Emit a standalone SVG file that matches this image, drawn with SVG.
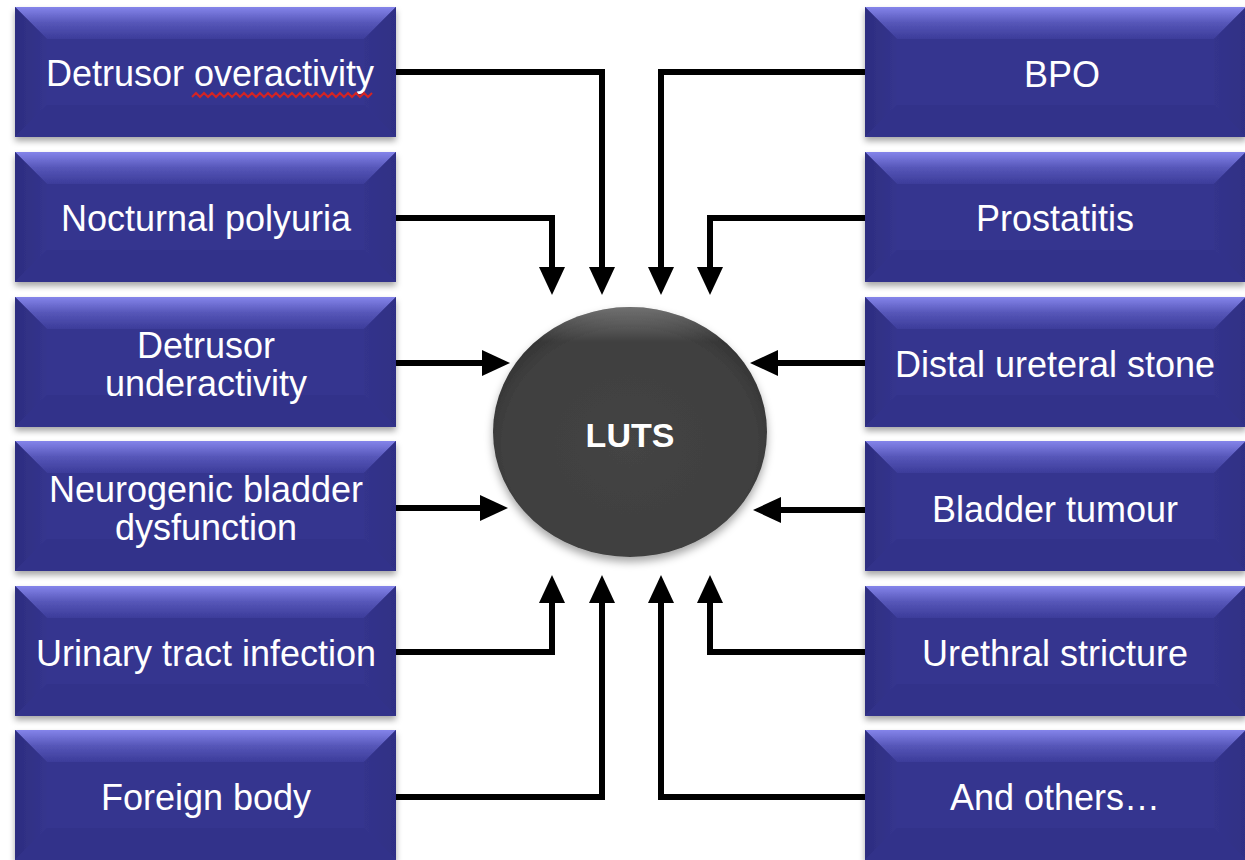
<svg xmlns="http://www.w3.org/2000/svg" xmlns:xlink="http://www.w3.org/1999/xlink" width="1245" height="860" viewBox="0 0 1245 860">
<style>
.lbl{font-family:"Liberation Sans",Arial,sans-serif;font-size:36px;fill:#ffffff;text-anchor:middle}
.hub{font-family:"Liberation Sans",Arial,sans-serif;font-size:34px;font-weight:bold;fill:#ffffff;text-anchor:middle}
.con{fill:none;stroke:#000;stroke-width:6;stroke-linejoin:miter;marker-end:url(#ah)}
</style>
<defs>
<filter id="sh" x="-10%" y="-10%" width="120%" height="130%">
<feDropShadow dx="0" dy="4" stdDeviation="3" flood-color="#000" flood-opacity="0.35"/>
</filter>
<filter id="csh" x="-15%" y="-15%" width="130%" height="135%">
<feDropShadow dx="0" dy="5" stdDeviation="4" flood-color="#000" flood-opacity="0.35"/>
</filter>
<linearGradient id="gTop" x1="0" y1="0" x2="0" y2="1">
<stop offset="0" stop-color="#8484ea"/><stop offset="0.5" stop-color="#5656b8"/><stop offset="1" stop-color="#3c3c9a"/>
</linearGradient>
<linearGradient id="gLeft" x1="0" y1="0" x2="1" y2="0">
<stop offset="0" stop-color="#2d2d80"/><stop offset="1" stop-color="#35358e"/>
</linearGradient>
<linearGradient id="gRight" x1="0" y1="0" x2="1" y2="0">
<stop offset="0" stop-color="#34348c"/><stop offset="1" stop-color="#2f2f85"/>
</linearGradient>
<radialGradient id="gC" cx="50%" cy="55%" r="55%">
<stop offset="0" stop-color="#444"/><stop offset="0.85" stop-color="#3f3f3f"/><stop offset="1" stop-color="#333"/>
</radialGradient>
<linearGradient id="gCH" x1="0" y1="0" x2="0" y2="1">
<stop offset="0" stop-color="#fff" stop-opacity="0.3"/><stop offset="0.14" stop-color="#fff" stop-opacity="0"/>
</linearGradient>
<g id="bevel">
<rect x="0" y="0" width="381" height="130" fill="#36368f"/>
<polygon points="0,0 381,0 349,32 32,32" fill="url(#gTop)"/>
<polygon points="0,0 32,32 32,98 0,130" fill="url(#gLeft)"/>
<polygon points="381,0 381,130 349,98 349,32" fill="url(#gRight)"/>
<polygon points="0,130 32,98 349,98 381,130" fill="#31318a"/>
</g>
<marker id="ah" viewBox="0 0 28 26" refX="14" refY="13" markerWidth="28" markerHeight="26" markerUnits="userSpaceOnUse" orient="auto">
<polygon points="0,0 28,13 0,26" fill="#000"/>
</marker>
</defs>
<rect width="1245" height="860" fill="#fff"/>

<g id="connectors">
<path class="con" d="M396,72 H602 V281"/>
<path class="con" d="M396,218 H552 V281"/>
<path class="con" d="M396,363 H496"/>
<path class="con" d="M396,508 H494"/>
<path class="con" d="M396,652 H552 V589"/>
<path class="con" d="M396,797 H602 V589"/>
<path class="con" d="M865,72 H661 V281"/>
<path class="con" d="M865,218 H710 V281"/>
<path class="con" d="M865,363 H764"/>
<path class="con" d="M865,510 H767"/>
<path class="con" d="M865,652 H710 V589"/>
<path class="con" d="M865,797 H661 V589"/>
</g>

<g id="n-luts">
<ellipse cx="630" cy="432" rx="137" ry="125" fill="url(#gC)" filter="url(#csh)"/>
<ellipse cx="630" cy="432" rx="137" ry="125" fill="url(#gCH)"/>
<text class="hub" x="630" y="447">LUTS</text>
</g>

<g id="n-do"><use xlink:href="#bevel" x="15" y="7" filter="url(#sh)"/><text class="lbl" x="210" y="86">Detrusor overactivity</text>
<path d="M192,97 l4,-4 l4,4 l4,-4 l4,4 l4,-4 l4,4 l4,-4 l4,4 l4,-4 l4,4 l4,-4 l4,4 l4,-4 l4,4 l4,-4 l4,4 l4,-4 l4,4 l4,-4 l4,4 l4,-4 l4,4 l4,-4 l4,4 l4,-4 l4,4 l4,-4 l4,4 l4,-4 l4,4 l4,-4 l4,4 l4,-4 l4,4 l4,-4 l4,4 l4,-4 l4,4 l4,-4 l4,4 l4,-4 l4,4 l4,-4 l4,4 l4,-4" fill="none" stroke="#d42424" stroke-width="2"/></g>

<g id="n-np"><use xlink:href="#bevel" x="15" y="152" filter="url(#sh)"/><text class="lbl" x="206" y="231">Nocturnal polyuria</text></g>
<g id="n-du"><use xlink:href="#bevel" x="15" y="297" filter="url(#sh)"/><text class="lbl" x="206" y="358">Detrusor</text><text class="lbl" x="206" y="396">underactivity</text></g>
<g id="n-nb"><use xlink:href="#bevel" x="15" y="441" filter="url(#sh)"/><text class="lbl" x="206" y="502">Neurogenic bladder</text><text class="lbl" x="206" y="540">dysfunction</text></g>
<g id="n-uti"><use xlink:href="#bevel" x="15" y="586" filter="url(#sh)"/><text class="lbl" x="206" y="666">Urinary tract infection</text></g>
<g id="n-fb"><use xlink:href="#bevel" x="15" y="730" filter="url(#sh)"/><text class="lbl" x="206" y="810">Foreign body</text></g>

<g id="n-bpo"><use xlink:href="#bevel" x="865" y="7" filter="url(#sh)"/><text class="lbl" x="1062" y="87">BPO</text></g>
<g id="n-pr"><use xlink:href="#bevel" x="865" y="152" filter="url(#sh)"/><text class="lbl" x="1055" y="231">Prostatitis</text></g>
<g id="n-dus"><use xlink:href="#bevel" x="865" y="297" filter="url(#sh)"/><text class="lbl" x="1055" y="377">Distal ureteral stone</text></g>
<g id="n-bt"><use xlink:href="#bevel" x="865" y="441" filter="url(#sh)"/><text class="lbl" x="1055" y="522">Bladder tumour</text></g>
<g id="n-us"><use xlink:href="#bevel" x="865" y="586" filter="url(#sh)"/><text class="lbl" x="1055" y="666">Urethral stricture</text></g>
<g id="n-ao"><use xlink:href="#bevel" x="865" y="730" filter="url(#sh)"/><text class="lbl" x="1055" y="810">And others…</text></g>
</svg>
